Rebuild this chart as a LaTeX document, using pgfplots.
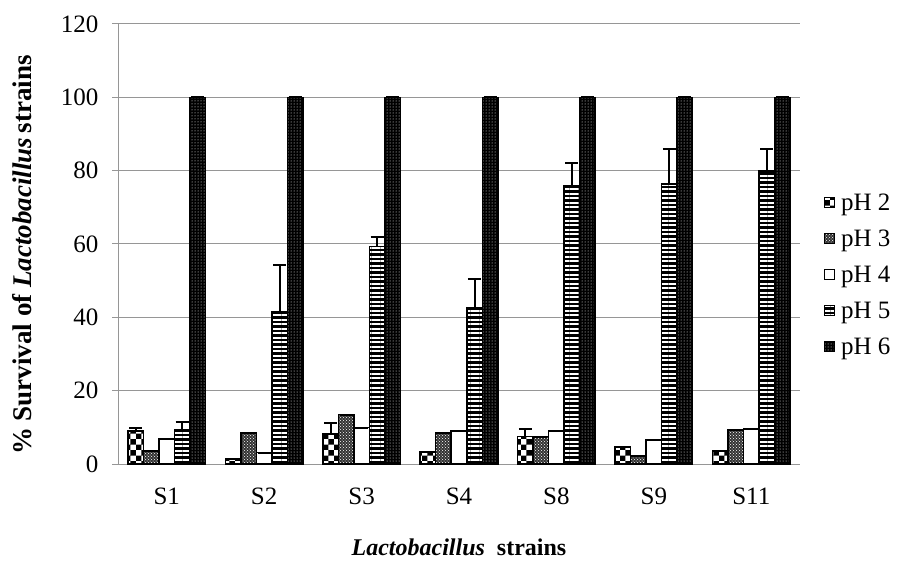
\documentclass[border=0pt]{standalone}
\usepackage{pgfplots}
\pgfplotsset{compat=1.18}
\usepackage{fontspec}
\setmainfont{Liberation Serif}
\usetikzlibrary{patterns,patterns.meta}
\definecolor{gridgray}{RGB}{150,150,150}
\pgfplotstableread{
x y e
0 9.0 0.9
1 1.3 0
2 8.2 3.1
3 3.4 0
4 7.5 2.0
5 4.7 0
6 3.6 0
}\phtwo
\pgfplotstableread{
x y e
0 3.6 0
1 8.5 0
2 13.5 0
3 8.4 0
4 7.5 0
5 2.2 0
6 9.3 0
}\phthree
\pgfplotstableread{
x y e
0 6.8 0
1 3.1 0
2 9.9 0
3 9.0 0
4 9.0 0
5 6.5 0
6 9.6 0
}\phfour
\pgfplotstableread{
x y e
0 9.3 2.2
1 41.4 12.8
2 59.3 2.7
3 42.7 7.7
4 76.0 6.0
5 76.4 9.6
6 79.9 6.0
}\phfive
\pgfplotstableread{
x y e
0 100 0
1 100 0
2 100 0
3 100 0
4 100 0
5 100 0
6 100 0
}\phsix
\pgfplotsset{eb/.style={error bars/.cd, y dir=plus, y explicit,
  error bar style={line width=2pt, solid, black},
  error mark options={rotate=90, mark size=6.5pt, line width=2pt, black}}}
\begin{document}
\begin{tikzpicture}
\path[use as bounding box] (0,0) rectangle (916pt,563pt);
\begin{axis}[
  at={(118pt,99pt)}, anchor=south west,
  scale only axis, width=682pt, height=440pt,
  ybar=0pt, bar width=15.5pt,
  xmin=-0.5, xmax=6.5, ymin=0, ymax=120,
  xtick=data, xticklabels={S1,S2,S3,S4,S8,S9,S11},
  ytick={0,20,...,120},
  axis x line=bottom, axis y line=left,
  axis line style={draw=gridgray, line width=1pt, -},
  x axis line style={-}, y axis line style={-},
  xtick style={draw=none},
  ytick style={draw=gridgray, line width=1pt},
  tick align=outside, major tick length=6pt,
  ymajorgrids, grid style={draw=gridgray, line width=1pt},
  tick label style={font=\fontsize{25}{28}\selectfont},
  /pgf/number format/assume math mode=true,
  yticklabel style={xshift=-10pt},
  xticklabel style={yshift=-14pt},
  xlabel={\textbf{\textit{Lactobacillus}}\ \ \textbf{strains}},
  ylabel={\textbf{\% Survival of \textit{Lactobacillus}\,strains}},
  xlabel style={font=\fontsize{24}{28}\selectfont, at={(axis description cs:0.5,-0.19)}, anchor=center},
  ylabel style={font=\fontsize{27}{30}\selectfont, at={(axis description cs:-0.141,0.475)}, anchor=center},
  legend style={at={(1.03,0.43)}, anchor=west, draw=none, fill=none,
    font=\fontsize{25}{28}\selectfont, row sep=14pt,
    legend cell align=left},
  legend image code/.code={\draw[#1, line width=1.2pt] (0pt,-5pt) rectangle (10pt,5pt);\path (14pt,0pt);},
  every axis plot/.append style={draw=black, line width=1.5pt},
]
\addplot[fill=white, postaction={pattern=checkerboard}, eb] table[x=x, y=y, y error=e] {\phtwo};
\addplot[fill=black!80, postaction={pattern=crosshatch dots, pattern color=white}, eb] table[x=x, y=y, y error=e] {\phthree};
\addplot[fill=white, eb] table[x=x, y=y, y error=e] {\phfour};
\addplot[fill=black, postaction={pattern={Lines[angle=0,distance=4.5pt,line width=2pt]}, pattern color=white}, eb] table[x=x, y=y, y error=e] {\phfive};
\addplot[fill=black, postaction={pattern=dots, pattern color=white}, eb] table[x=x, y=y, y error=e] {\phsix};
\legend{pH 2, pH 3, pH 4, pH 5, pH 6}
\end{axis}
\end{tikzpicture}
\end{document}
